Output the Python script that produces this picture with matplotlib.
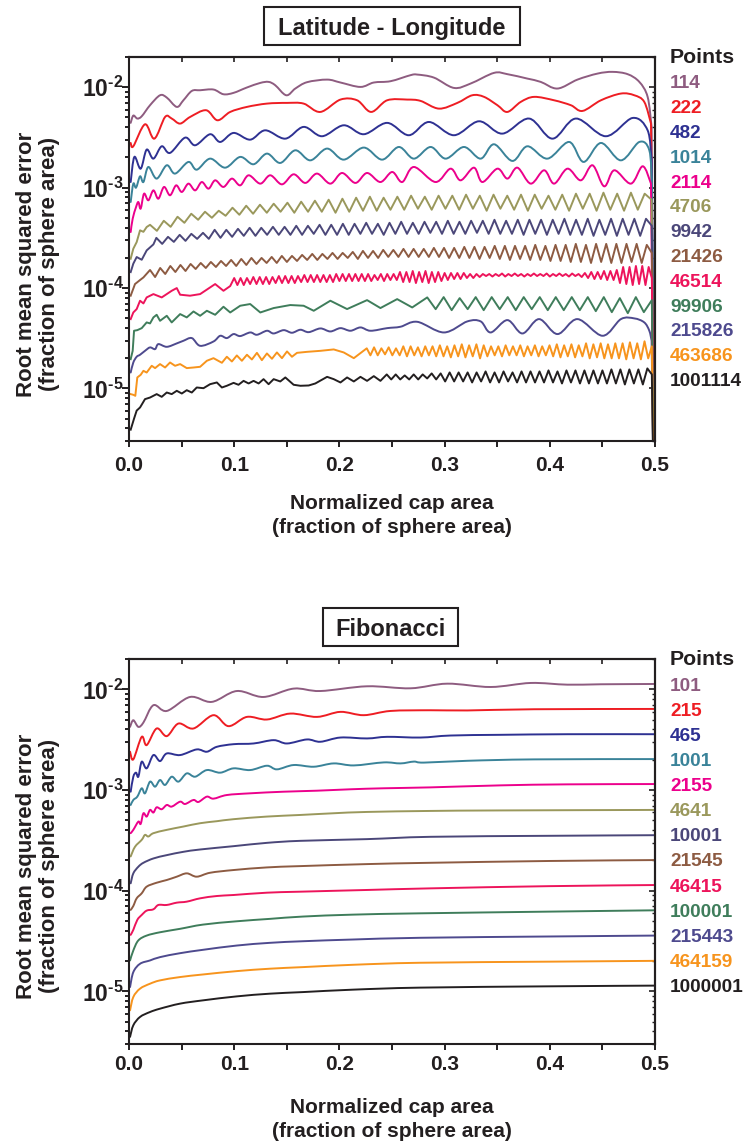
import numpy as np
import matplotlib
matplotlib.use("Agg")
import matplotlib.pyplot as plt
from matplotlib.ticker import FixedLocator, LogLocator, FuncFormatter, NullFormatter
from matplotlib.patches import Rectangle, PathPatch
from matplotlib.path import Path

plt.rcParams['font.family'] = ['Liberation Sans', 'DejaVu Sans']
plt.rcParams['font.weight'] = 'bold'
plt.rcParams['mathtext.fontset'] = 'custom'
plt.rcParams['mathtext.rm'] = 'Liberation Sans:bold'
plt.rcParams['mathtext.bf'] = 'Liberation Sans:bold'
plt.rcParams['mathtext.it'] = 'Liberation Sans:bold'

# ---------------- data ----------------
panel_titles = ['Latitude - Longitude', 'Fibonacci']
legend_title = 'Points'
x_label = ['Normalized cap area', '(fraction of sphere area)']
y_label = 'Root mean squared error\n(fraction of sphere area)'
x_ticks = [0.0, 0.1, 0.2, 0.3, 0.4, 0.5]
x_minor = [0.05, 0.15, 0.25, 0.35, 0.45]
y_ticks = [1e-5, 1e-4, 1e-3, 1e-2]

lat_labels = ['114', '222', '482', '1014', '2114', '4706', '9942', '21426',
              '46514', '99906', '215826', '463686', '1001114']
fib_labels = ['101', '215', '465', '1001', '2155', '4641', '10001', '21545',
              '46415', '100001', '215443', '464159', '1000001']
series_colors = ['#8E5C80', '#EE1D23', '#2E3192', '#3A8399', '#EC008C', '#9A985C',
                 '#4B4779', '#8D5B42', '#ED145B', '#3F7D5B', '#4E4A8E', '#F7941D', '#231F20']

# values are log10(RMS error); at x = 0.5 every lat-long curve falls off the axis
lat_edge_x = 0.5
lat_edge_log = -7.0

lat_114_x = [0.0016,0.0041,0.0079,0.0121,0.020,0.0295,0.0359,0.0454,0.0517,0.0597,0.0676,0.0803,0.0898,0.0994,0.112,0.1248,0.1327,0.139,0.1495,0.1581,0.1692,0.1883,0.201,0.22,0.2327,0.2486,0.2676,0.274,0.2898,0.3089,0.3248,0.347,0.3597,0.3787,0.3914,0.4073,0.4263,0.4454,0.4597,0.474,0.4851,0.493,0.4968]
lat_114_log = [-2.355,-2.282,-2.312,-2.289,-2.179,-2.080,-2.103,-2.196,-2.130,-2.037,-2.030,-2.023,-2.070,-2.056,-2.003,-1.957,-1.947,-1.980,-2.080,-2.013,-1.950,-1.924,-1.953,-1.997,-1.953,-1.940,-1.880,-1.874,-1.904,-2.007,-1.963,-1.857,-1.870,-1.914,-1.947,-2.013,-1.924,-1.864,-1.847,-1.870,-1.947,-2.096,-2.395]

lat_222_x = [0.0016,0.0041,0.0152,0.0241,0.0343,0.0406,0.0486,0.0581,0.0733,0.0841,0.0962,0.1121,0.1311,0.1502,0.166,0.1819,0.201,0.2168,0.2302,0.2454,0.2644,0.2771,0.2946,0.3121,0.3263,0.3375,0.3502,0.3597,0.3724,0.3851,0.4041,0.42,0.4311,0.4486,0.4676,0.4803,0.4898,0.4962]
lat_222_log = [-2.555,-2.588,-2.369,-2.512,-2.296,-2.312,-2.362,-2.296,-2.229,-2.329,-2.246,-2.196,-2.163,-2.156,-2.163,-2.246,-2.123,-2.130,-2.246,-2.130,-2.123,-2.136,-2.213,-2.156,-2.080,-2.096,-2.179,-2.246,-2.146,-2.096,-2.130,-2.179,-2.236,-2.130,-2.063,-2.080,-2.146,-2.362]

lat_482_x = [0.0016,0.0051,0.0111,0.0168,0.0232,0.0311,0.039,0.0533,0.0629,0.0771,0.0867,0.0994,0.1152,0.1295,0.1486,0.166,0.1835,0.2041,0.2232,0.2454,0.266,0.2851,0.3089,0.3327,0.3549,0.3803,0.4025,0.4248,0.4533,0.4787,0.493,0.4968]
lat_482_log = [-2.944,-2.694,-2.811,-2.621,-2.711,-2.588,-2.654,-2.502,-2.578,-2.468,-2.545,-2.455,-2.522,-2.429,-2.512,-2.395,-2.488,-2.379,-2.468,-2.355,-2.478,-2.346,-2.478,-2.339,-2.462,-2.312,-2.512,-2.312,-2.488,-2.306,-2.429,-2.728]

lat_1014_x = [0.0016,0.0041,0.0067,0.0105,0.0137,0.0184,0.0263,0.0359,0.0438,0.0565,0.0644,0.0771,0.0914,0.1057,0.1184,0.1311,0.1438,0.1581,0.1724,0.1883,0.2041,0.2232,0.2406,0.2565,0.2708,0.2867,0.301,0.3184,0.3343,0.347,0.3644,0.3787,0.3978,0.4184,0.4321,0.4486,0.4676,0.4851,0.4946,0.4971]
lat_1014_log = [-3.143,-2.960,-3.0,-2.887,-2.944,-2.794,-2.910,-2.777,-2.860,-2.744,-2.821,-2.711,-2.801,-2.694,-2.767,-2.661,-2.754,-2.628,-2.728,-2.611,-2.721,-2.601,-2.721,-2.595,-2.711,-2.595,-2.711,-2.595,-2.711,-2.568,-2.734,-2.588,-2.711,-2.545,-2.744,-2.555,-2.728,-2.545,-2.628,-2.960]

lat_2114_x = [0.0016,0.0035,0.0067,0.0089,0.0111,0.0143,0.0184,0.0232,0.0279,0.0333,0.039,0.0448,0.0502,0.0565,0.0629,0.0692,0.0756,0.0819,0.0898,0.0978,0.1057,0.1137,0.1248,0.1343,0.1454,0.1565,0.1676,0.1787,0.1914,0.2025,0.2152,0.2263,0.239,0.2502,0.2597,0.2708,0.2914,0.3057,0.3152,0.3279,0.3359,0.3502,0.3597,0.3692,0.3819,0.3946,0.4041,0.4168,0.4295,0.4406,0.4517,0.4613,0.4771,0.4883,0.4962]
lat_2114_log = [-3.442,-3.309,-3.193,-3.143,-3.209,-3.060,-3.126,-3.027,-3.110,-2.993,-3.076,-2.977,-3.043,-2.960,-3.027,-2.944,-3.010,-2.927,-2.993,-2.910,-2.977,-2.877,-2.960,-2.877,-2.967,-2.867,-2.953,-2.860,-2.960,-2.854,-2.953,-2.854,-2.944,-2.844,-2.944,-2.794,-2.944,-2.811,-2.927,-2.801,-2.944,-2.811,-2.910,-2.801,-2.960,-2.827,-2.960,-2.811,-2.927,-2.777,-2.987,-2.827,-2.960,-2.787,-2.960]

lat_4706_x = [0.0016,0.0041,0.0073,0.0105,0.0137,0.0168]
lat_4706_log = [-3.708,-3.608,-3.542,-3.425,-3.44,-3.392]
lat_4706_grid = (0.020, 0.4967)
lat_4706_grid_log = [-3.37,-3.43,-3.33,-3.39,-3.29,-3.35,-3.26,-3.32,-3.24,-3.30,
                     -3.23,-3.28,-3.20,-3.27,-3.18,-3.26,-3.17,-3.25,-3.16,-3.24,
                     -3.15,-3.25,-3.14,-3.24,-3.13,-3.24,-3.12,-3.25,-3.11,-3.24,
                     -3.10,-3.23,-3.09,-3.23,-3.10,-3.22,-3.09,-3.22,-3.08,-3.21,
                     -3.09,-3.22,-3.08,-3.21,-3.08,-3.22,-3.07,-3.21,-3.08,-3.23,
                     -3.07,-3.21,-3.08,-3.22,-3.07,-3.23,-3.07,-3.21,-3.08,-3.22,
                     -3.07,-3.23,-3.06,-3.21,-3.06,-3.23,-3.05,-3.22,-3.06,-3.23,
                     -3.05,-3.22,-3.06,-3.12]

lat_9942_x = [0.0016,0.0041,0.0073,0.0121,0.0168,0.0232]
lat_9942_log = [-3.841,-3.757,-3.691,-3.718,-3.625,-3.565]
lat_9942_grid = (0.026, 0.497)
lat_9942_grid_log = [-3.50,-3.56,-3.49,-3.54,-3.47,-3.53,-3.46,-3.51,-3.45,-3.51,
                     -3.42,-3.50,-3.42,-3.49,-3.41,-3.48,-3.40,-3.48,-3.40,-3.47,
                     -3.39,-3.47,-3.39,-3.47,-3.38,-3.47,-3.38,-3.46,-3.37,-3.47,
                     -3.37,-3.47,-3.36,-3.47,-3.36,-3.46,-3.35,-3.46,-3.36,-3.47,
                     -3.35,-3.46,-3.34,-3.46,-3.35,-3.46,-3.34,-3.45,-3.34,-3.46,
                     -3.33,-3.46,-3.34,-3.46,-3.33,-3.45,-3.33,-3.46,-3.32,-3.46,
                     -3.33,-3.46,-3.32,-3.47,-3.32,-3.46,-3.32,-3.47,-3.32,-3.46,
                     -3.31,-3.47,-3.32,-3.47,-3.31,-3.48,-3.32,-3.47,-3.31,-3.48,
                     -3.31,-3.47,-3.31,-3.48,-3.31,-3.38]

lat_21426_x = [0.0016,0.0057,0.0105,0.0137]
lat_21426_log = [-4.076,-3.960,-3.92,-3.894]
lat_21426_grid = (0.020, 0.497)
lat_21426_grid_log = [-3.82,-3.89,-3.80,-3.86,-3.78,-3.84,-3.77,-3.83,-3.76,-3.81,-3.75,-3.80,-3.74,-3.79,-3.73,-3.78,-3.72,
                      -3.78,-3.71,-3.77,-3.70,-3.76,-3.70,-3.75,-3.69,-3.75,-3.68,-3.74,-3.68,-3.73,-3.67,-3.72,-3.66,-3.72,-3.66,-3.71,-3.65,-3.71,-3.65,-3.70,-3.64,
                      -3.71,-3.63,-3.70,-3.63,-3.70,-3.62,-3.69,-3.62,-3.69,-3.61,-3.69,-3.61,-3.69,-3.61,-3.69,-3.60,-3.69,-3.60,-3.70,-3.60,
                      -3.70,-3.59,-3.70,-3.59,-3.71,-3.59,-3.70,-3.58,-3.71,-3.58,-3.72,-3.58,-3.71,-3.58,-3.72,-3.57,-3.72,-3.58,-3.73,-3.57,
                      -3.73,-3.57,-3.74,-3.56,-3.74,-3.57,-3.75,-3.56,-3.74,-3.56,-3.75,-3.56,-3.75,-3.56,-3.74,-3.56,-3.75,-3.57,-3.65]

lat_46514_x = [0.0016,0.0041,0.0073,0.0105,0.0137,0.0168,0.0232,0.0311,0.0359,0.0406,0.0454,0.0486,0.058,0.0676,0.0771,0.0819,0.0898,0.0962]
lat_46514_log = [-4.309,-4.243,-4.209,-4.126,-4.153,-4.093,-4.06,-4.093,-4.06,-4.027,-4.0,-4.066,-4.076,-4.06,-3.993,-3.96,-4.027,-3.98]
lat_46514_grid = (0.100, 0.497)
lat_46514_grid_log = [-3.90,-3.97,-3.90,-3.97,-3.90,-3.96,-3.89,-3.96,-3.89,-3.96,
                      -3.89,-3.96,-3.89,-3.95,-3.88,-3.95,-3.88,-3.95,-3.88,-3.95,
                      -3.88,-3.94,-3.87,-3.94,-3.87,-3.94,-3.87,-3.94,-3.87,-3.94,
                      -3.87,-3.94,-3.86,-3.93,-3.86,-3.93,-3.86,-3.93,-3.86,-3.93,
                      -3.86,-3.93,-3.86,-3.93,-3.87,-3.92,-3.86,-3.93,-3.86,-3.92,
                      -3.86,-3.92,
                      -3.84,-3.94,-3.84,-3.94,-3.83,-3.95,-3.84,-3.94,-3.83,-3.95,-3.84,-3.94,-3.84,-3.93,-3.85,-3.92,-3.85,
                      -3.91,-3.85,-3.91,-3.85,-3.90,-3.86,-3.90,-3.86,-3.89,-3.86,
                      -3.88,-3.86,-3.885,-3.86,-3.88,-3.855,-3.885,-3.86,-3.88,-3.855,-3.88,-3.86,-3.885,-3.86,-3.88,-3.855,
                      -3.88,-3.86,-3.88,-3.855,-3.885,-3.86,-3.88,-3.855,-3.88,-3.86,-3.885,-3.855,-3.88,-3.86,-3.89,-3.85,
                      -3.90,-3.84,-3.91,-3.84,-3.91,-3.83,-3.92,-3.83,-3.92,-3.82,
                      -3.95,-3.79,-3.96,-3.79,-3.97,-3.78,-3.96,-3.78,-3.97,-3.79,-3.90]

lat_99906_x = [0.0016,0.0035,0.0048,0.0079,0.0121,0.0168,0.02,0.0232,0.0263,0.0295,0.0359,0.0406,0.0486,0.0549,0.0613,0.0676,0.074,0.0819,0.0898,0.0962,0.1057,0.1152,0.1248,0.1375,0.1533,0.166,0.1756,0.1914,0.2073,0.2263,0.239,0.2549,0.2692,0.2835]
lat_99906_log = [-4.708,-4.625,-4.425,-4.419,-4.399,-4.342,-4.352,-4.292,-4.266,-4.326,-4.276,-4.342,-4.259,-4.292,-4.233,-4.276,-4.226,-4.266,-4.186,-4.243,-4.176,-4.159,-4.243,-4.199,-4.169,-4.176,-4.226,-4.126,-4.209,-4.120,-4.199,-4.110,-4.193,-4.093]
lat_99906_grid = (0.2915, 0.497)
lat_99906_grid_log = [-4.21,-4.09,-4.22,-4.10,-4.21,-4.09,-4.22,-4.09,-4.21,-4.09,-4.22,-4.09,-4.21,-4.09,
                      -4.22,-4.09,-4.22,-4.09,-4.22,-4.09,-4.23,-4.09,-4.24,-4.10,-4.25,-4.09,-4.24,-4.12]

lat_215826_x = [0.0016,0.0041,0.0073,0.0105,0.0152,0.02,0.0248,0.0279,0.0359,0.0454,0.0517,0.0597,0.0676,0.0803,0.0867,0.093,0.0994,0.1057,0.1152,0.1216,0.1311,0.1375,0.147,0.1549,0.1629,0.1708,0.1819,0.1914,0.201,0.2105,0.22,0.2295,0.2454,0.2581,0.274,0.2994,0.3216,0.3343,0.3438,0.3597,0.374,0.3898,0.4073,0.4263,0.4502,0.4676,0.4803,0.4898,0.4946,0.4968]
lat_215826_log = [-4.841,-4.741,-4.684,-4.664,-4.625,-4.591,-4.608,-4.558,-4.585,-4.551,-4.525,-4.498,-4.575,-4.532,-4.475,-4.498,-4.458,-4.478,-4.442,-4.465,-4.425,-4.452,-4.419,-4.445,-4.415,-4.439,-4.402,-4.432,-4.399,-4.425,-4.392,-4.425,-4.399,-4.385,-4.336,-4.442,-4.332,-4.332,-4.442,-4.319,-4.452,-4.309,-4.458,-4.309,-4.475,-4.309,-4.302,-4.342,-4.425,-4.525]

lat_463686_x = [0.0016,0.0041,0.006,0.0079,0.0111,0.0137,0.0168,0.0216,0.0248,0.0295,0.0343,0.039,0.0438,0.0486,0.0549,0.0613,0.0676,0.074,0.0803,0.0883,0.093,0.0978,0.1025,0.1073,0.1121,0.1168,0.1216,0.1263,0.1311,0.1359,0.1406,0.1454,0.1502,0.1549,0.1597,0.1692,0.1819,0.1946,0.2041,0.2137]
lat_463686_log = [-5.056,-5.063,-5.073,-4.890,-4.864,-4.824,-4.841,-4.774,-4.797,-4.757,-4.791,-4.741,-4.774,-4.757,-4.797,-4.791,-4.784,-4.724,-4.698,-4.744,-4.684,-4.731,-4.671,-4.724,-4.664,-4.711,-4.645,-4.718,-4.651,-4.704,-4.641,-4.698,-4.631,-4.684,-4.645,-4.635,-4.625,-4.611,-4.641,-4.698]
lat_463686_grid = (0.226, 0.497)
lat_463686_grid_log = [-4.60,-4.67,-4.59,-4.67,-4.60,-4.66,-4.59,-4.67,-4.60,-4.67,
                       -4.58,-4.68,-4.58,-4.67,-4.59,-4.68,-4.58,-4.67,-4.58,-4.68,
                       -4.57,-4.68,-4.58,-4.69,-4.57,-4.68,-4.56,-4.69,-4.57,-4.68,
                       -4.56,-4.70,-4.57,-4.68,-4.58,-4.67,-4.58,-4.68,-4.57,-4.67,
                       -4.58,-4.67,-4.57,-4.68,-4.58,-4.67,-4.57,-4.68,-4.58,-4.67,
                       -4.57,-4.68,-4.56,-4.69,-4.57,-4.68,-4.56,-4.69,-4.57,-4.68,
                       -4.55,-4.70,-4.56,-4.69,-4.55,-4.70,-4.56,-4.70,-4.55,-4.70,
                       -4.55,-4.71,-4.54,-4.70,-4.55,-4.71,-4.53,-4.70,-4.58]

lat_1001114_x = [0.0016,0.0048,0.0073,0.0105,0.0152,0.02,0.0263,0.0311,0.0359,0.0406,0.0454,0.0502,0.0549,0.0597,0.0644,0.0708,0.0771,0.0835,0.0883,0.093,0.0994,0.1041,0.1089,0.1137,0.1184,0.1232,0.1279,0.1327,0.1375,0.1438,0.1486,0.1565,0.1629,0.1708,0.1771,0.1883,0.1946,0.201,0.2073,0.2137,0.22,0.2263,0.2327,0.239]
lat_1001114_log = [-5.41,-5.30,-5.22,-5.189,-5.106,-5.09,-5.056,-5.083,-5.040,-5.056,-5.023,-5.05,-5.017,-5.04,-4.990,-4.997,-4.957,-4.940,-4.990,-4.973,-4.944,-4.963,-4.924,-4.950,-4.924,-4.950,-4.907,-4.957,-4.907,-4.930,-4.890,-4.963,-4.973,-4.970,-4.950,-4.884,-4.907,-4.940,-4.890,-4.930,-4.884,-4.924,-4.877,-4.924]
lat_1001114_grid = (0.245, 0.497)
lat_1001114_grid_log = [-4.86,-4.91,-4.86,-4.91,-4.87,-4.91,-4.86,-4.91,-4.86,-4.90,-4.85,-4.91,
                        -4.85,-4.93,-4.84,-4.93,-4.84,-4.93,-4.84,-4.94,-4.84,-4.93,-4.83,-4.94,
                        -4.84,-4.94,-4.83,-4.93,-4.84,-4.94,-4.83,-4.94,-4.83,-4.94,-4.83,-4.94,
                        -4.82,-4.94,-4.83,-4.95,-4.82,-4.94,-4.82,-4.95,-4.82,-4.95,-4.82,-4.95,
                        -4.82,-4.95,-4.81,-4.95,-4.81,-4.96,-4.81,-4.95,-4.81,-4.96,-4.80,-4.86]

fib_101_x = [0.001,0.0041,0.0089,0.0137,0.0232,0.0359,0.0581,0.0787,0.1025,0.1279,0.1565,0.1819,0.2263,0.2676,0.3025,0.3438,0.3819,0.4168,0.4486,0.5]
fib_101_log = [-2.373,-2.307,-2.373,-2.33,-2.158,-2.215,-2.076,-2.125,-2.017,-2.076,-1.993,-2.017,-1.970,-1.990,-1.944,-1.977,-1.937,-1.954,-1.950,-1.947]
fib_215_x = [0.001,0.0041,0.0121,0.0168,0.0263,0.0359,0.047,0.0613,0.0803,0.0946,0.1121,0.1311,0.1533,0.1787,0.201,0.2232,0.2486,0.2867,0.3216,0.3851,0.5]
fib_215_log = [-2.62,-2.696,-2.472,-2.554,-2.389,-2.465,-2.340,-2.389,-2.257,-2.366,-2.274,-2.300,-2.241,-2.274,-2.224,-2.257,-2.215,-2.208,-2.210,-2.198,-2.195]
fib_465_x = [0.0016,0.0041,0.0067,0.0089,0.0121,0.0168,0.0232,0.0295,0.0359,0.0486,0.0644,0.074,0.0835,0.0994,0.1184,0.1375,0.1502,0.1692,0.1819,0.201,0.2263,0.2454,0.2771,0.3057,0.3533,0.4168,0.5]
fib_465_log = [-3.017,-2.868,-2.828,-2.868,-2.719,-2.785,-2.653,-2.713,-2.637,-2.653,-2.597,-2.620,-2.571,-2.545,-2.538,-2.505,-2.538,-2.498,-2.521,-2.479,-2.488,-2.472,-2.479,-2.459,-2.452,-2.446,-2.446]
fib_1001_x = [0.0016,0.0041,0.0079,0.0121,0.0152,0.02,0.0248,0.0295,0.0343,0.0406,0.047,0.0549,0.0629,0.074,0.0867,0.0994,0.1152,0.1311,0.1406,0.1565,0.1756,0.1946,0.2137,0.2422,0.2581,0.2708,0.2803,0.3216,0.3851,0.5]
fib_1001_log = [-3.149,-3.099,-3.066,-2.983,-3.033,-2.917,-2.967,-2.901,-2.950,-2.868,-2.917,-2.835,-2.868,-2.802,-2.828,-2.785,-2.802,-2.759,-2.795,-2.752,-2.769,-2.736,-2.756,-2.726,-2.736,-2.718,-2.728,-2.710,-2.696,-2.693]
fib_2155_x = [0.0016,0.0041,0.0089,0.0111,0.0137,0.0168,0.02,0.0232,0.0263,0.0311,0.0359,0.0406,0.0486,0.0533,0.0613,0.066,0.074,0.0803,0.093,0.1152,0.147,0.1787,0.2105,0.2422,0.2867,0.3533,0.4168,0.5]
fib_2155_log = [-3.429,-3.396,-3.314,-3.337,-3.231,-3.264,-3.198,-3.224,-3.172,-3.191,-3.149,-3.165,-3.116,-3.139,-3.099,-3.119,-3.066,-3.086,-3.050,-3.033,-3.017,-3.007,-2.993,-2.983,-2.974,-2.954,-2.944,-2.941]
fib_4641_x = [0.0016,0.0057,0.0121,0.0152,0.0184,0.0232,0.0359,0.0517,0.0676,0.0835,0.0994,0.1311,0.1629,0.1946,0.2263,0.2867,0.3533,0.5]
fib_4641_log = [-3.660,-3.564,-3.495,-3.446,-3.462,-3.429,-3.396,-3.363,-3.330,-3.31,-3.290,-3.264,-3.248,-3.231,-3.218,-3.208,-3.203,-3.198]
fib_10001_x = [0.0016,0.0041,0.0089,0.0137,0.0232,0.0359,0.0517,0.0676,0.0994,0.1311,0.1629,0.2263,0.2867,0.4,0.5]
fib_10001_log = [-3.927,-3.828,-3.762,-3.723,-3.680,-3.647,-3.614,-3.591,-3.558,-3.525,-3.505,-3.488,-3.465,-3.455,-3.449]
fib_21545_x = [0.0016,0.0041,0.0073,0.0121,0.0168,0.0263,0.0359,0.0454,0.0549,0.0644,0.0771,0.0994,0.1311,0.1629,0.2263,0.2867,0.4,0.5]
fib_21545_log = [-4.191,-4.152,-4.076,-4.026,-3.960,-3.921,-3.894,-3.861,-3.828,-3.861,-3.822,-3.795,-3.769,-3.756,-3.736,-3.723,-3.705,-3.696]
fib_46415_x = [0.0016,0.0041,0.0079,0.0121,0.0168,0.0232,0.0279,0.0359,0.0454,0.0549,0.0676,0.0835,0.0994,0.1311,0.1629,0.2263,0.2867,0.4,0.5]
fib_46415_log = [-4.439,-4.389,-4.290,-4.241,-4.198,-4.185,-4.142,-4.142,-4.119,-4.109,-4.076,-4.053,-4.043,-4.020,-4.010,-3.993,-3.977,-3.955,-3.944]
fib_100001_x = [0.001,0.0041,0.0088,0.0168,0.0295,0.0485,0.0703,0.1024,0.134,0.1654,0.2129,0.2766,0.4,0.5]
fib_100001_log = [-4.693,-4.594,-4.495,-4.446,-4.413,-4.379,-4.337,-4.304,-4.280,-4.257,-4.238,-4.225,-4.208,-4.195]
fib_215443_x = [0.001,0.0041,0.0105,0.02,0.0295,0.0485,0.0706,0.1024,0.134,0.1657,0.2132,0.2766,0.4,0.5]
fib_215443_log = [-4.957,-4.809,-4.726,-4.693,-4.660,-4.621,-4.587,-4.545,-4.518,-4.502,-4.485,-4.468,-4.455,-4.446]
fib_464159_x = [0.001,0.0041,0.0105,0.02,0.0295,0.0485,0.0706,0.1024,0.134,0.1657,0.2132,0.2766,0.4,0.5]
fib_464159_log = [-5.188,-5.056,-4.973,-4.924,-4.891,-4.858,-4.832,-4.799,-4.775,-4.759,-4.736,-4.716,-4.705,-4.697]
fib_1000001_x = [0.001,0.0041,0.0105,0.02,0.0295,0.0485,0.0706,0.1024,0.134,0.1657,0.2132,0.2766,0.4,0.5]
fib_1000001_log = [-5.452,-5.337,-5.254,-5.205,-5.172,-5.122,-5.089,-5.050,-5.023,-5.007,-4.983,-4.963,-4.950,-4.943]


def series(x_pts, log_pts, grid=None, grid_log=None):
    n = min(len(x_pts), len(log_pts))
    xs = list(x_pts[:n])
    ls = list(log_pts[:n])
    if grid is not None:
        xs += list(np.linspace(grid[0], grid[1], len(grid_log)))
        ls += list(grid_log)
    return np.array(xs, float), np.array(ls, float)


# (x, log10 y, smooth line?)
lat_series = [
    series(lat_114_x, lat_114_log) + (True,),
    series(lat_222_x, lat_222_log) + (True,),
    series(lat_482_x, lat_482_log) + (True,),
    series(lat_1014_x, lat_1014_log) + (True,),
    series(lat_2114_x, lat_2114_log) + (True,),
    series(lat_4706_x, lat_4706_log, lat_4706_grid, lat_4706_grid_log) + (False,),
    series(lat_9942_x, lat_9942_log, lat_9942_grid, lat_9942_grid_log) + (False,),
    series(lat_21426_x, lat_21426_log, lat_21426_grid, lat_21426_grid_log) + (False,),
    series(lat_46514_x, lat_46514_log, lat_46514_grid, lat_46514_grid_log) + (False,),
    series(lat_99906_x, lat_99906_log, lat_99906_grid, lat_99906_grid_log) + (False,),
    series(lat_215826_x, lat_215826_log) + (True,),
    series(lat_463686_x, lat_463686_log, lat_463686_grid, lat_463686_grid_log) + (False,),
    series(lat_1001114_x, lat_1001114_log, lat_1001114_grid, lat_1001114_grid_log) + (False,),
]
fib_series = [
    series(fib_101_x, fib_101_log) + (True,),
    series(fib_215_x, fib_215_log) + (True,),
    series(fib_465_x, fib_465_log) + (True,),
    series(fib_1001_x, fib_1001_log) + (True,),
    series(fib_2155_x, fib_2155_log) + (True,),
    series(fib_4641_x, fib_4641_log) + (True,),
    series(fib_10001_x, fib_10001_log) + (True,),
    series(fib_21545_x, fib_21545_log) + (True,),
    series(fib_46415_x, fib_46415_log) + (True,),
    series(fib_100001_x, fib_100001_log) + (True,),
    series(fib_215443_x, fib_215443_log) + (True,),
    series(fib_464159_x, fib_464159_log) + (True,),
    series(fib_1000001_x, fib_1000001_log) + (True,),
]


def spline_path(xs, ls, edge=None):
    """Smooth (Catmull-Rom style cubic Bezier) connection of the data points,
    built in (x, log10 y) and drawn through the axes' log scale."""
    P = np.column_stack([xs, ls])
    n = len(P)
    verts = [P[0].copy()]
    codes = [Path.MOVETO]
    for i in range(n - 1):
        p0 = P[i - 1] if i > 0 else P[i]
        p1, p2 = P[i], P[i + 1]
        p3 = P[i + 2] if i + 2 < n else P[i + 1]
        c1 = p1 + (p2 - p0) / 6.0
        c2 = p2 - (p3 - p1) / 6.0
        c1[0] = np.clip(c1[0], p1[0], p2[0])
        c2[0] = np.clip(c2[0], p1[0], p2[0])
        verts += [c1, c2, p2.copy()]
        codes += [Path.CURVE4] * 3
    if edge is not None:
        verts.append(np.array(edge, float))
        codes.append(Path.LINETO)
    V = np.array(verts)
    V[:, 1] = 10.0 ** V[:, 1]
    return Path(V, codes)


def sci_label(v, pos):
    e = int(round(np.log10(v)))
    return '$\\mathbf{10^{\u2010%d}}$' % abs(e)


# ---------------- layout ----------------
W, H = 749, 1147
fig = plt.figure(figsize=(W / 100, H / 100), dpi=100)
fig.patch.set_facecolor('white')


def fx(px):
    return px / W


def fy(py):
    return 1 - py / H


panels = [
    dict(top=57, bottom=441, title_box=(264, 7, 256, 38), title_y=34.5,
         legend_y0=81.7, legend_dy=24.8, points_y=63.0, ylab_y=264,
         xlab_y=(509, 533), tick_pad=6.0, labels=lat_labels, data=lat_series,
         edge=True),
    dict(top=659, bottom=1044, title_box=(323, 608, 135, 38), title_y=635.5,
         legend_y0=684, legend_dy=25.1, points_y=665.0, ylab_y=866,
         xlab_y=(1113, 1137), tick_pad=3.5, labels=fib_labels, data=fib_series,
         edge=False),
]

TXT = '#231F20'
LW = 1.4
for k, p in enumerate(panels):
    ax = fig.add_axes([fx(129), fy(p['bottom']), fx(526), (p['bottom'] - p['top']) / H])
    for (xs, ls, smooth), c in zip(p['data'], series_colors):
        edge = (lat_edge_x, lat_edge_log) if p['edge'] else None
        if smooth:
            ax.add_patch(PathPatch(spline_path(xs, ls, edge), fill=False, ec=c,
                                   lw=LW, joinstyle='round', capstyle='round'))
        else:
            xx, ll = list(xs), list(ls)
            if edge is not None:
                xx.append(edge[0])
                ll.append(edge[1])
            ax.plot(xx, 10.0 ** np.array(ll), color=c, lw=LW, solid_joinstyle='round')
    ax.set_yscale('log')
    ax.set_xlim(0, 0.5)
    ax.set_ylim(3e-6, 2e-2)
    ax.xaxis.set_major_locator(FixedLocator(x_ticks))
    ax.xaxis.set_minor_locator(FixedLocator(x_minor))
    ax.xaxis.set_major_formatter(FuncFormatter(lambda v, pos: f'{v:.1f}'))
    ax.yaxis.set_major_locator(FixedLocator(y_ticks))
    ax.yaxis.set_minor_locator(LogLocator(base=10, subs=np.arange(2, 10), numticks=30))
    ax.yaxis.set_minor_formatter(NullFormatter())
    ax.yaxis.set_major_formatter(FuncFormatter(sci_label))
    ax.tick_params(which='both', direction='out', top=False, right=False,
                   width=1.4, color=TXT, labelcolor=TXT)
    ax.tick_params(axis='y', which='major', length=5, pad=-1.0, labelsize=16.5)
    ax.tick_params(axis='y', which='minor', length=3)
    ax.tick_params(axis='x', which='both', length=4.5, pad=p['tick_pad'], labelsize=15)
    for s in ax.spines.values():
        s.set_linewidth(1.5)
        s.set_color(TXT)

    secx = ax.secondary_xaxis('top')
    secx.xaxis.set_major_locator(FixedLocator(x_ticks + x_minor))
    secx.tick_params(axis='x', which='both', direction='in', length=3.5, width=1.2,
                     labeltop=False, color=TXT)
    secx.spines['top'].set_linewidth(1.5)
    secy = ax.secondary_yaxis('right')
    secy.yaxis.set_major_locator(FixedLocator(y_ticks))
    secy.yaxis.set_minor_locator(LogLocator(base=10, subs=np.arange(2, 10), numticks=30))
    secy.yaxis.set_minor_formatter(NullFormatter())
    secy.tick_params(axis='y', which='major', direction='in', length=4, width=1.2,
                     labelright=False, color=TXT)
    secy.tick_params(axis='y', which='minor', direction='in', length=2.5, width=1.0,
                     labelright=False, color=TXT)
    secy.spines['right'].set_linewidth(1.5)

    # title box
    bx, by, bw, bh = p['title_box']
    fig.patches.append(Rectangle((fx(bx), fy(by + bh)), bw / W, bh / H,
                                 transform=fig.transFigure, fill=True, fc='white',
                                 ec=TXT, lw=1.5))
    fig.text(fx(bx + bw / 2), fy(p['title_y']), panel_titles[k], ha='center',
             va='baseline', fontsize=17, fontweight='bold', color=TXT)

    # right-hand legend
    fig.text(fx(670), fy(p['points_y']), legend_title, ha='left', va='baseline',
             fontsize=15.3, fontweight='bold', color=TXT)
    for i, (lab, c) in enumerate(zip(p['labels'], series_colors)):
        yc = p['legend_y0'] + i * p['legend_dy']
        fig.text(fx(670), fy(yc + 6.8), lab, ha='left', va='baseline',
                 fontsize=13.7, fontweight='bold', color=c)

    # axis labels
    fig.text(fx(38), fy(p['ylab_y']), y_label, rotation=90, ha='center', va='center',
             fontsize=16, fontweight='bold', color=TXT, linespacing=1.15,
             multialignment='center')
    fig.text(fx(392), fy(p['xlab_y'][0]), x_label[0], ha='center', va='baseline',
             fontsize=15, fontweight='bold', color=TXT)
    fig.text(fx(392), fy(p['xlab_y'][1]), x_label[1], ha='center', va='baseline',
             fontsize=15, fontweight='bold', color=TXT)

fig.savefig('out.png', dpi=100, facecolor='white')
